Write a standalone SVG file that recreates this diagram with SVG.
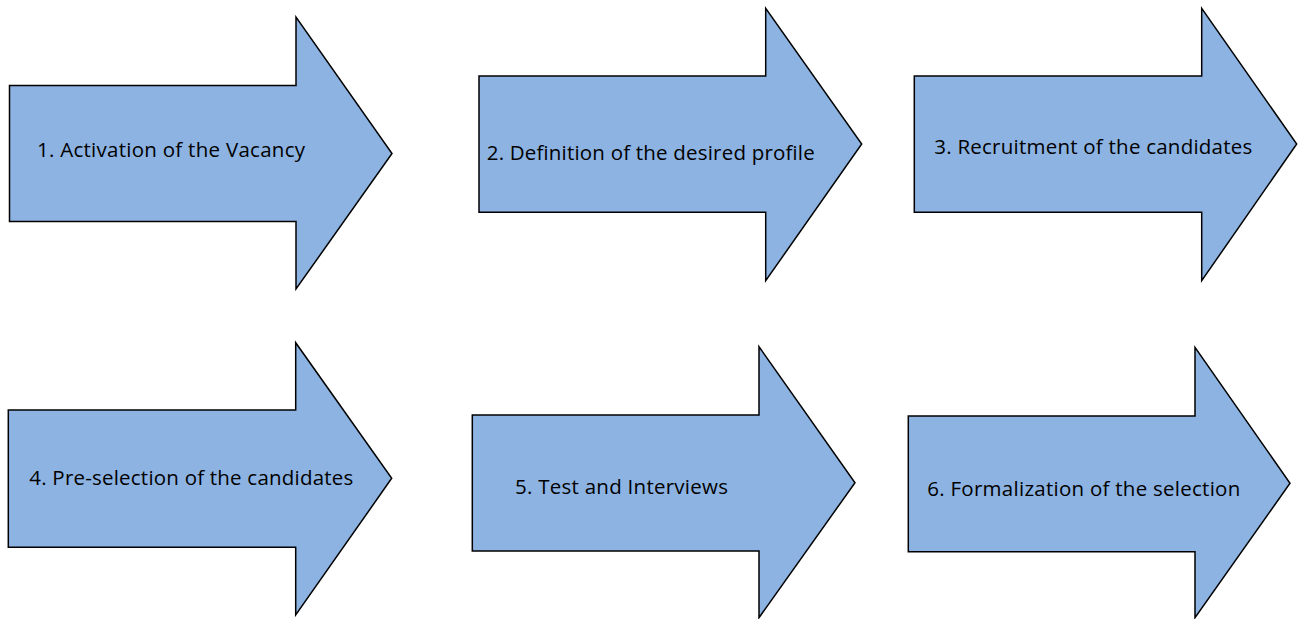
<svg xmlns="http://www.w3.org/2000/svg" width="1304" height="619" viewBox="0 0 1304 619">
<style>
.arrow{fill:#8DB3E2;stroke:#000;stroke-width:1.5;stroke-linejoin:miter}
.lbl{font-family:"Open Sans","Liberation Sans",sans-serif;font-size:20.5px;fill:#000}
</style>
<rect width="1304" height="619" fill="#fff"/>
<g id="connectors"></g>
<g id="node1">
<path class="arrow" d="M9.5,85.5 H296 V17 L392,153.5 L296,289 V221.5 H9.5 Z"/>
<text class="lbl" x="37" y="157" textLength="268" lengthAdjust="spacing">1. Activation of the Vacancy</text>
</g>
<g id="node2">
<path class="arrow" d="M479,76 H765.7 V8.3 L861.7,144 L765.7,280.7 V212.3 H479 Z"/>
<text class="lbl" x="486.7" y="160" textLength="328" lengthAdjust="spacing">2. Definition of the desired profile</text>
</g>
<g id="node3">
<path class="arrow" d="M914.3,76 H1201.7 V8.3 L1296.7,144 L1201.7,280.7 V212.3 H914.3 Z"/>
<text class="lbl" x="934.3" y="153.5" textLength="318" lengthAdjust="spacing">3. Recruitment of the candidates</text>
</g>
<g id="node4">
<path class="arrow" d="M8.3,410 H295.7 V342.7 L391.7,478.3 L295.7,615 V547.3 H8.3 Z"/>
<text class="lbl" x="29.3" y="485" textLength="324" lengthAdjust="spacing">4. Pre-selection of the candidates</text>
</g>
<g id="node5">
<path class="arrow" d="M472.3,415 H759 V346.7 L855,482.7 L759,617.7 V551 H472.3 Z"/>
<text class="lbl" x="515" y="493.5" textLength="213" lengthAdjust="spacing">5. Test and Interviews</text>
</g>
<g id="node6">
<path class="arrow" d="M908.3,416 H1195 V347.3 L1290,483.3 L1195,617.7 V551.7 H908.3 Z"/>
<text class="lbl" x="927.3" y="496" textLength="313" lengthAdjust="spacing">6. Formalization of the selection</text>
</g>
</svg>
